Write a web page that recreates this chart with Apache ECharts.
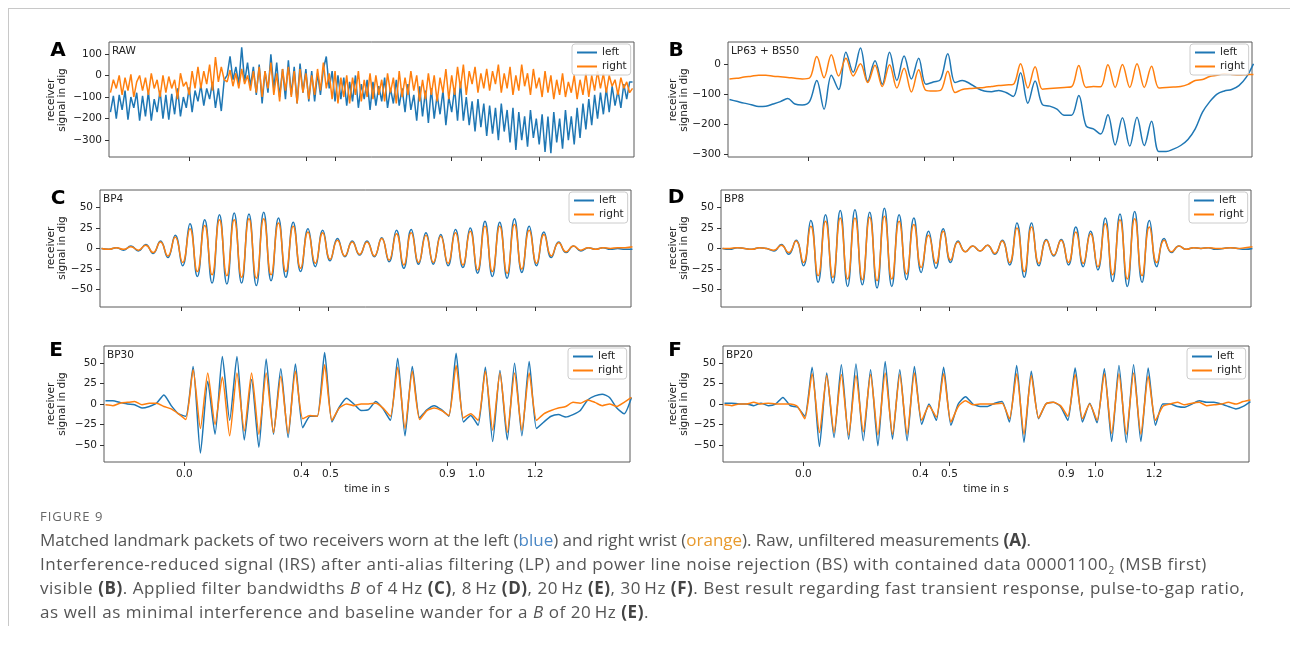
<!DOCTYPE html>
<html>
<head>
<meta charset="utf-8">
<script src="https://cdn.jsdelivr.net/npm/echarts@6/dist/echarts.min.js"></script>
<style>
  html, body { margin: 0; padding: 0; background: #fff; overflow: hidden; }
  #chart { position: absolute; left: 0; top: 0; width: 1290px; height: 646px; }
  #frame { position: absolute; left: 8px; top: 8px; width: 1282px; height: 617px;
           border-top: 1px solid #c8c8c8; border-left: 1px solid #c8c8c8; pointer-events: none; }
  #cap { position: absolute; left: 40px; top: 506px; font-family: 'Open Sans', 'Noto Sans', sans-serif; color: #555; }
  #cap .fig { font-size: 13px; letter-spacing: 1px; line-height: 20px; color: #666; }
  #cap .ln { display: block; font-size: 17px; line-height: 24px; height: 24px; white-space: nowrap; }
  #cap .txt { margin-top: 2px; }
  #cap b { color: #444; }
  #cap .bl { color: #4a87c5; }
  #cap .or { color: #e89a2e; }
  #cap .sb { font-size: 10px; position: relative; top: 4px; line-height: 0; }
</style>
</head>
<body>
<div id="chart"></div>
<div id="frame"></div>
<div id="cap">
  <div class="fig">FIGURE 9</div>
  <div class="txt">
    <span class="ln" data-w="991">Matched landmark packets of two receivers worn at the left (<span class="bl">blue</span>) and right wrist (<span class="or">orange</span>). Raw, unfiltered measurements <b>(A)</b>.</span>
    <span class="ln" data-w="1167">Interference-reduced signal (IRS) after anti-alias filtering (LP) and power line noise rejection (BS) with contained data 00001100<span class="sb">2</span> (MSB first)</span>
    <span class="ln" data-w="1205">visible <b>(B)</b>. Applied filter bandwidths <i>B</i> of 4&#8201;Hz <b>(C)</b>, 8&#8201;Hz <b>(D)</b>, 20&#8201;Hz <b>(E)</b>, 30&#8201;Hz <b>(F)</b>. Best result regarding fast transient response, pulse-to-gap ratio,</span>
    <span class="ln" data-w="609">as well as minimal interference and baseline wander for a <i>B</i> of 20&#8201;Hz <b>(E)</b>.</span>
  </div>
</div>
<script>
// ---------------- DATA ----------------
const seriesNames = ['left', 'right'];
const panelLetters = ['A', 'B', 'C', 'D', 'E', 'F'];
const panelTitles = ['RAW', 'LP63 + BS50', 'BP4', 'BP8', 'BP30', 'BP20'];
const timeTicks = [0, 0.4, 0.5, 0.9, 1.0, 1.2];
const rawTicks = [-300, -200, -100, 0, 100];
const lpTicks = [-300, -200, -100, 0];
const bpTicks = [-50, -25, 0, 25, 50];
const xAxisTitle = 'time in s';
const yAxisTitle = 'receiver\nsignal in dig';

// RAW: sampled every 0.01 s starting at -0.27 s
const RAW_T0 = -0.27, RAW_DT = 0.01;
const rawLeft = [
  -170,-95,-200,-90,-160,-70,-205,-100,-150,-80,
  -210,-95,-190,-75,-210,-110,-170,-70,-200,-90,
  -205,-85,-180,-60,-190,-100,-150,-55,-170,-70,
  -120,-45,-140,-60,-110,-30,-150,-60,-165,-20,
  0,88,-20,40,-40,130,-30,60,-50,40,
  -90,50,-130,20,-80,98,-60,60,-100,30,
  -110,70,-90,40,-130,55,-80,30,-120,20,
  -120,10,-90,30,88,-60,20,-120,0,-110,
  -10,-140,-30,-120,0,-150,-40,-110,-20,-160,
  -30,-140,-50,-120,-10,-150,-60,-130,-20,-140,
  -60,-170,-40,-160,-90,-210,-50,-190,-70,-220,
  -60,-200,-90,-180,-70,-230,-100,-170,-60,-210,
  -30,-210,-100,-230,-120,-260,-110,-240,-130,-280,
  -140,-270,-150,-300,-130,-260,-160,-310,-150,-345,
  -170,-300,-190,-330,-160,-290,-200,-320,-180,-355,
  -190,-360,-170,-310,-200,-340,-160,-300,-190,-320,
  -150,-290,-130,-250,-110,-230,-90,-200,-80,-180,
  -60,-170,-50,-140,-70,-150,-40,-110,-30,-30
];
const rawRight = [
  -80,-20,-60,0,-90,-10,-70,5,-100,-30,
  0,-70,-10,-90,10,-60,-20,-100,0,-80,
  -5,-60,-20,-110,10,-50,-30,-90,20,-60,
  40,-60,20,-40,50,-70,85,-30,40,-20,
  -30,25,-50,10,-60,30,-40,0,-70,20,
  -80,40,-100,20,-60,60,-90,10,-120,30,
  -70,40,-100,20,-130,30,-80,10,-110,0,
  -90,30,-70,60,-60,10,-110,20,-130,-10,
  -100,0,-130,-10,-90,20,-120,-20,-100,10,
  -110,0,-90,-20,-120,10,-80,-10,-130,20,
  -100,-10,-90,20,-70,0,-120,-20,-110,10,
  -90,0,-120,-10,-80,30,-110,0,-90,40,
  -60,50,-90,20,-40,40,-80,10,-60,30,
  -70,20,-40,50,-80,10,-60,40,-90,0,
  -70,50,-50,10,-90,30,-60,-10,-100,20,
  -80,0,-110,-20,-90,10,-100,-30,-80,0,
  -110,-20,-90,10,-100,0,-70,20,-60,10,
  -80,0,-50,-20,-90,-10,-60,-30,-80,-60
];

// Filtered signals: values read at every 0.025 s starting at -0.27 s
const F_T0 = -0.27, F_DT = 0.025;
const lpLeft = [
  -118,-124,-130,-135,-141,-140,-133,-125,-115,-133,-136,-125,
  -55,-150,-38,-85,38,-28,52,-58,10,-68,38,-55,26,-50,18,-68,-60,-52,
  33,-62,-55,-65,-80,-90,-92,-88,-95,-108,-30,-130,-57,-135,-140,-150,
  -170,-170,-105,-205,-215,-232,-168,-268,-178,-272,-177,-270,-190,-290,
  -290,-282,-270,-250,-215,-160,-125,-100,-90,-85,-72,-45,0
];
const lpRight = [
  -50,-48,-44,-41,-38,-38,-41,-43,-45,-48,-50,-47,
  24,-46,30,-40,18,-40,0,-62,-5,-75,-3,-80,-15,-93,-20,-88,-90,-88,
  -25,-95,-85,-82,-80,-78,-75,-72,-70,-68,0,-80,-10,-84,-82,-80,
  -78,-76,-6,-78,-75,-76,-3,-78,-2,-78,0,-78,-8,-80,
  -78,-77,-75,-68,-55,-52,-42,-38,-33,-35,-37,-36,-35
];
const bp4Left = [
  0,-1,1,-2,3,-3,5,-6,9,-11,
  16,-21,30,-34,35,-42,41,-43,43,-42,
  42,-45,44,-39,37,-35,32,-28,24,-22,
  22,-15,12,-10,9,-8,9,-10,13,-16,
  22,-24,23,-19,19,-19,17,-21,23,-23,
  25,-30,33,-34,32,-36,36,-29,27,-21,
  20,-11,8,-5,3,-3,1,-1,1,-1,
  0,-1,-1
];
const bp4Right = [
  0,-1,1,-1,2,-2,4,-5,8,-9,
  14,-17,24,-28,28,-32,35,-33,35,-35,
  36,-36,36,-32,31,-28,27,-24,20,-18,
  19,-13,10,-9,8,-7,8,-9,12,-14,
  18,-20,19,-17,16,-17,15,-18,19,-20,
  21,-26,27,-28,27,-30,29,-25,22,-18,
  17,-9,7,-4,3,-2,1,-1,1,0,
  1,1,2
];
const bp8Left = [
  0,-1,1,0,-1,1,0,-3,5,-7,
  10,-21,34,-41,41,-42,46,-46,47,-44,
  44,-48,49,-46,41,-38,37,-29,21,-24,
  24,-17,9,-4,3,-3,4,-7,10,-20,
  31,-35,31,-21,11,-9,11,-20,26,-22,
  21,-26,37,-40,42,-46,45,-41,34,-22,
  12,-5,3,-1,1,0,1,-1,0,1,
  0,-1,0
];
const bp8Right = [
  0,0,1,0,-1,1,0,-2,4,-5,
  9,-17,27,-33,33,-35,37,-37,37,-38,
  38,-39,39,-37,33,-31,29,-23,16,-18,
  21,-14,8,-4,3,-3,4,-6,9,-17,
  25,-28,26,-18,10,-8,10,-17,20,-18,
  18,-22,30,-32,35,-37,36,-33,26,-17,
  10,-4,3,-1,1,0,1,0,0,1,
  0,1,2
];
const bp30Left = [
  4,4,2,0,-1,-5,-3,1,11,-2,
  -12,-15,46,-60,28,-37,58,-20,58,-44,
  30,-53,55,-37,43,-41,49,-29,-15,-15,
  63,-22,-4,7,0,-8,-7,3,-6,-20,
  56,-39,46,-17,-7,-2,-7,-15,62,-22,
  -14,-26,45,-46,41,-44,50,-39,52,-30,
  -22,-15,-13,-16,-13,-8,5,10,12,8,
  -5,-12,8
];
const bp30Right = [
  -1,-2,1,2,3,-1,1,1,-3,-6,
  -12,-19,42,-30,38,-25,33,-39,38,-33,
  38,-37,38,-35,34,-36,40,-18,-14,-15,
  48,-20,-5,0,-2,0,0,1,-5,-15,
  45,-30,40,-19,-8,-5,-8,-14,47,-17,
  -12,-20,40,-32,38,-35,38,-32,38,-20,
  -12,-8,-5,-3,2,1,5,2,-2,0,
  -3,2,8
];
const bp20Left = [
  1,1,0,0,-2,1,-2,0,8,-2,
  -4,-15,45,-52,38,-41,48,-43,49,-45,
  42,-51,52,-43,42,-45,46,-25,0,-20,
  45,-26,0,9,0,-3,-3,1,3,-22,
  47,-47,40,-18,0,2,-3,-20,44,-22,
  1,-23,43,-46,47,-47,48,-46,44,-26,
  0,0,-3,-4,0,4,2,2,0,-3,
  -6,-3,3
];
const bp20Right = [
  -1,-2,0,0,2,0,1,0,0,0,
  -3,-18,37,-35,35,-35,36,-38,35,-34,
  36,-38,38,-37,36,-37,38,-20,-2,-16,
  37,-22,-3,4,-1,0,0,0,1,-18,
  37,-37,35,-17,0,2,-2,-15,36,-18,
  0,-20,37,-36,37,-37,38,-37,34,-20,
  -3,0,2,-1,1,2,-2,-1,0,2,
  0,3,5
];

// ---------------- LAYOUT / STYLE ----------------
const BLUE = '#1f77b4', ORANGE = '#ff7f0e';
const FONT = 'DejaVu Sans';
const X_MIN = -0.275, X_MAX = 1.525;

const panels = [
  { data: [RAW_T0, RAW_DT, rawLeft, rawRight], yr: [-378, 155], yt: rawTicks, smooth: false,
    box: { left: 109, top: 42, width: 525, height: 115 }, letter: [58, 51], ylab: [57, 100], lg: [572, 44], xl: false },
  { data: [F_T0, F_DT, lpLeft, lpRight], yr: [-308, 72], yt: lpTicks, smooth: 0.35,
    box: { left: 728, top: 42, width: 524, height: 115 }, letter: [676, 51], ylab: [679, 100], lg: [1190, 44], xl: false },
  { data: [F_T0, F_DT, bp4Left, bp4Right], yr: [-71, 71], yt: bpTicks, smooth: 0.5,
    box: { left: 100, top: 190, width: 531, height: 117 }, letter: [58, 199], ylab: [57, 248], lg: [569, 192], xl: false },
  { data: [F_T0, F_DT, bp8Left, bp8Right], yr: [-71, 71], yt: bpTicks, smooth: 0.5,
    box: { left: 721, top: 190, width: 530, height: 117 }, letter: [676, 198], ylab: [679, 248], lg: [1189, 192], xl: false },
  { data: [F_T0, F_DT, bp30Left, bp30Right], yr: [-71, 71], yt: bpTicks, smooth: 0.2,
    box: { left: 104, top: 346, width: 526, height: 116 }, letter: [56, 351], ylab: [57, 404], lg: [568, 348], xl: true },
  { data: [F_T0, F_DT, bp20Left, bp20Right], yr: [-71, 71], yt: bpTicks, smooth: 0.2,
    box: { left: 723, top: 346, width: 526, height: 116 }, letter: [675, 351], ylab: [679, 404], lg: [1187, 348], xl: true }
];

const minus = v => String(v).replace('-', '\u2212');
const toPairs = (t0, dt, vals) => vals.map((v, i) => [Math.round((t0 + i * dt) * 1000) / 1000, v]);

const grids = [], xAxes = [], yAxes = [], series = [], legends = [], graphics = [];
panels.forEach((p, k) => {
  grids.push(Object.assign({ show: true, borderColor: '#5a5a5a', borderWidth: 1, backgroundColor: 'transparent' }, p.box));
  xAxes.push({
    type: 'value', gridIndex: k, min: X_MIN, max: X_MAX, position: 'bottom',
    axisLine: { show: false, onZero: false }, splitLine: { show: false },
    axisTick: { show: true, length: 4, customValues: timeTicks, lineStyle: { color: '#333' } },
    axisLabel: { show: p.xl, customValues: timeTicks, margin: 7, fontSize: 10.5, color: '#222', fontFamily: FONT,
                 formatter: v => v.toFixed(1) },
    name: p.xl ? xAxisTitle : '', nameLocation: 'middle', nameGap: 22,
    nameTextStyle: { fontSize: 10.5, color: '#222', fontFamily: FONT }
  });
  yAxes.push({
    type: 'value', gridIndex: k, min: p.yr[0], max: p.yr[1], position: 'left',
    axisLine: { show: false, onZero: false }, splitLine: { show: false },
    axisTick: { show: true, length: 4, customValues: p.yt, lineStyle: { color: '#333' } },
    axisLabel: { customValues: p.yt, margin: 7, fontSize: 10.5, color: '#222', fontFamily: FONT, formatter: minus }
  });
  const [t0, dt, lv, rv] = p.data;
  [[lv, BLUE], [rv, ORANGE]].forEach(([vals, col], j) => {
    series.push({
      name: seriesNames[j], type: 'line', xAxisIndex: k, yAxisIndex: k,
      data: toPairs(t0, dt, vals), showSymbol: false, symbol: 'none', clip: true, smooth: p.smooth,
      lineStyle: { color: col, width: 1.5 }, itemStyle: { color: col }, animation: false, z: 2 + j
    });
  });
  legends.push({
    data: seriesNames, orient: 'vertical', left: p.lg[0], top: p.lg[1],
    icon: 'rect', itemWidth: 20, itemHeight: 2, itemGap: 3, padding: [3, 4, 3, 5],
    backgroundColor: 'rgba(255,255,255,0.85)', borderColor: '#cccccc', borderWidth: 1, borderRadius: 3,
    selectedMode: false, z: 10,
    textStyle: { fontSize: 10.5, color: '#222', fontFamily: FONT }
  });
  graphics.push({
    type: 'text', x: p.letter[0], y: p.letter[1], z: 10,
    style: { text: panelLetters[k], font: 'bold 20px "DejaVu Sans"', fill: '#000', align: 'center', verticalAlign: 'middle' }
  });
  graphics.push({
    type: 'text', x: p.box.left + 3, y: p.box.top + 4, z: 10,
    style: { text: panelTitles[k], font: '10.5px "DejaVu Sans"', fill: '#222', align: 'left', verticalAlign: 'top' }
  });
  graphics.push({
    type: 'text', x: p.ylab[0], y: p.ylab[1], rotation: Math.PI / 2, z: 10,
    style: { text: yAxisTitle, font: '10.5px "DejaVu Sans"', fill: '#222', align: 'center', verticalAlign: 'middle', lineHeight: 11 }
  });
});

const chart = echarts.init(document.getElementById('chart'), null, { renderer: 'canvas' });
chart.setOption({
  animation: false,
  backgroundColor: '#ffffff',
  textStyle: { fontFamily: FONT },
  grid: grids, xAxis: xAxes, yAxis: yAxes, series: series,
  legend: legends, graphic: graphics
});

// fit caption lines to the widths they have in the reference
function fitCaption() {
  document.querySelectorAll('#cap .ln').forEach(el => {
    el.style.letterSpacing = '0px';
    el.style.display = 'inline-block';
    const w = el.getBoundingClientRect().width;
    const n = el.textContent.length;
    const target = +el.dataset.w;
    el.style.letterSpacing = ((target - w) / n).toFixed(3) + 'px';
    el.style.display = 'block';
  });
}
fitCaption();
if (document.fonts && document.fonts.ready) document.fonts.ready.then(fitCaption);
</script>
</body>
</html>
